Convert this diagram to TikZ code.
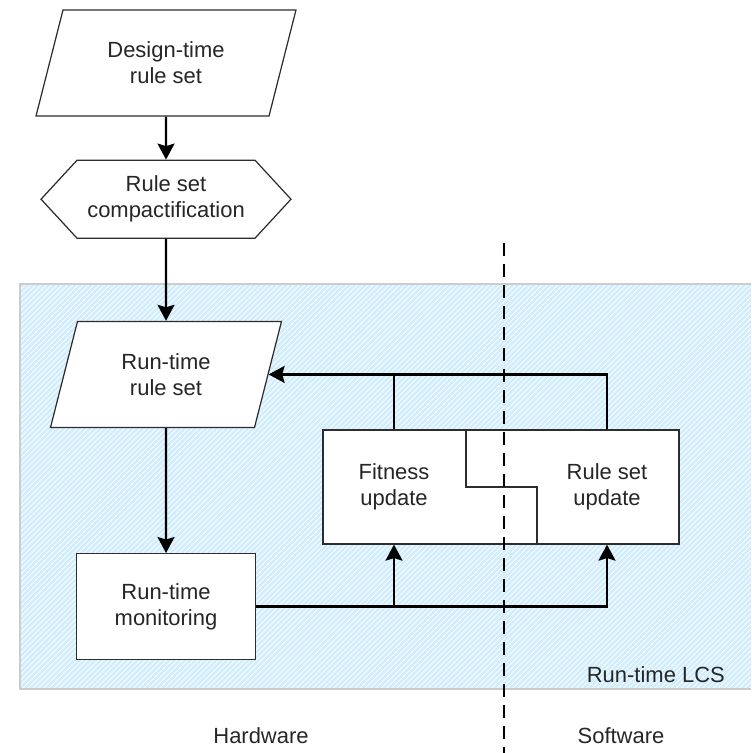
\documentclass[tikz,border=0pt]{standalone}
\usepackage{fontspec}
\setmainfont{Liberation Sans}
\usepackage{xcolor}
\usepackage{tikz}
\usetikzlibrary{arrows.meta,positioning,shapes.geometric,shapes.symbols,patterns}
\definecolor{lcsblue}{RGB}{210,238,253}
\definecolor{boxline}{RGB}{45,45,45}

\begin{document}
\begin{tikzpicture}[
  x=0.02cm, y=-0.02cm,
  node distance=1cm,
  every node/.style={font=\fontsize{12.5}{14.8}\selectfont, text=black!85},
  ruleset/.style={trapezium, trapezium left angle=63.4, trapezium right angle=116.6,
                  trapezium stretches body, draw=boxline, line width=0.7pt,
                  fill=white, align=center, minimum height=2.12cm},
  prep/.style={signal, signal to=west and east, signal pointer angle=94.6,
               draw=boxline, line width=0.7pt, fill=white, align=center,
               minimum width=5cm, minimum height=1.56cm},
  process/.style={draw=boxline, line width=0.7pt, fill=white, align=center},
  flow/.style={-{Stealth[length=0.32cm,width=0.34cm,inset=0.05cm]}, line width=1.3pt},
  wire/.style={line width=1.3pt},
  divider/.style={line width=1.1pt, dash pattern=on 0.26cm off 0.16cm},
]
  \useasboundingbox (0,0) rectangle (751,753);

  % run-time part of the system
  \fill[lcsblue] (20,284) rectangle (751,689);
  \fill[pattern=north east lines, pattern color=white] (20,284) rectangle (751,689);
  \draw[black!20, line width=0.6pt] (751,284) -- (20,284) -- (20,689) -- (751,689);

  \node[ruleset, minimum width=5.2cm] (dts) at (166,63) {Design-time\\rule set};
  \node[prep, below=0.86cm of dts] (rsc) {Rule set\\compactification};
  \node[ruleset, minimum width=4.62cm, below=1.64cm of rsc] (rts) {Run-time\\rule set};
  \node[process, minimum width=3.58cm, minimum height=2.12cm, below=2.5cm of rts]
    (mon) {Run-time\\monitoring};

  \node[process, minimum width=7.12cm, minimum height=2.28cm] (upd) at (501,487) {};
  \node[align=center] (fit) at (394,487) {Fitness\\update};
  \node[align=center] (rsu) at (607,487) {Rule set\\update};
  \draw[boxline, line width=0.7pt] (466,430) -- (466,487) -- (537,487) -- (537,544);

  \draw[flow] (dts) -- (rsc);
  \draw[flow] (rsc) -- (rts);
  \draw[flow] (rts) -- (mon);
  \draw[flow] (mon.east) -| (upd.south -| rsu);
  \draw[flow] (mon.east -| fit) -- (upd.south -| fit);
  \draw[flow] (upd.north -| rsu) |- (rts.east);
  \draw[wire] (upd.north -| fit) -- (fit |- rts.east);

  % hardware / software split
  \coordinate (divtop) at (504,243);
  \coordinate (divbot) at (504,753);
  \draw[divider] (divtop) -- (divbot);

  \node[anchor=base east] (lcs) at (731,682) {Run-time LCS};
  \node (hw) at (261,736) {Hardware};
  \node (sw) at (621,736) {Software};
\end{tikzpicture}
\end{document}
